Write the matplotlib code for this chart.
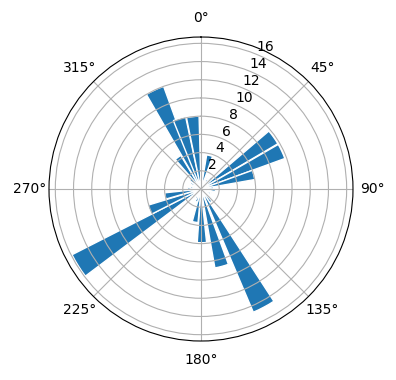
import numpy as np
import matplotlib.pyplot as plt

# bar directions (degrees, clockwise from north) and lengths
directions = [4, 14.5, 25, 35, 45, 54.5, 65, 75, 85, 95, 105, 115, 125, 135, 143,
              152, 165, 179, 190, 200, 210, 220, 228, 238, 248, 259, 270, 280,
              290, 300, 312, 324, 335, 343, 353.5]
values = [1.2, 3.8, 1.0, 1.3, 1.8, 9.8, 9.8, 6.0, 1.4, 1.6, 1.0, 1.2, 0.8, 1.5, 1.8,
          14.7, 8.8, 5.9, 3.7, 1.5, 1.2, 1.0, 1.3, 15.9, 6.1, 4.0, 1.5, 1.2,
          1.0, 1.3, 1.6, 4.3, 12.0, 8.1, 8.0]

fig = plt.figure(figsize=(3.96, 3.8), dpi=100)
ax = fig.add_axes([0.1237, 0.1026, 0.7677, 0.8], projection='polar')
ax.set_theta_zero_location('N')
ax.set_theta_direction(-1)

ax.bar(np.deg2rad(directions), values, width=np.deg2rad(10),
       color='#1f77b4', edgecolor='white', linewidth=1)

plt.savefig('out.png', dpi=100)
